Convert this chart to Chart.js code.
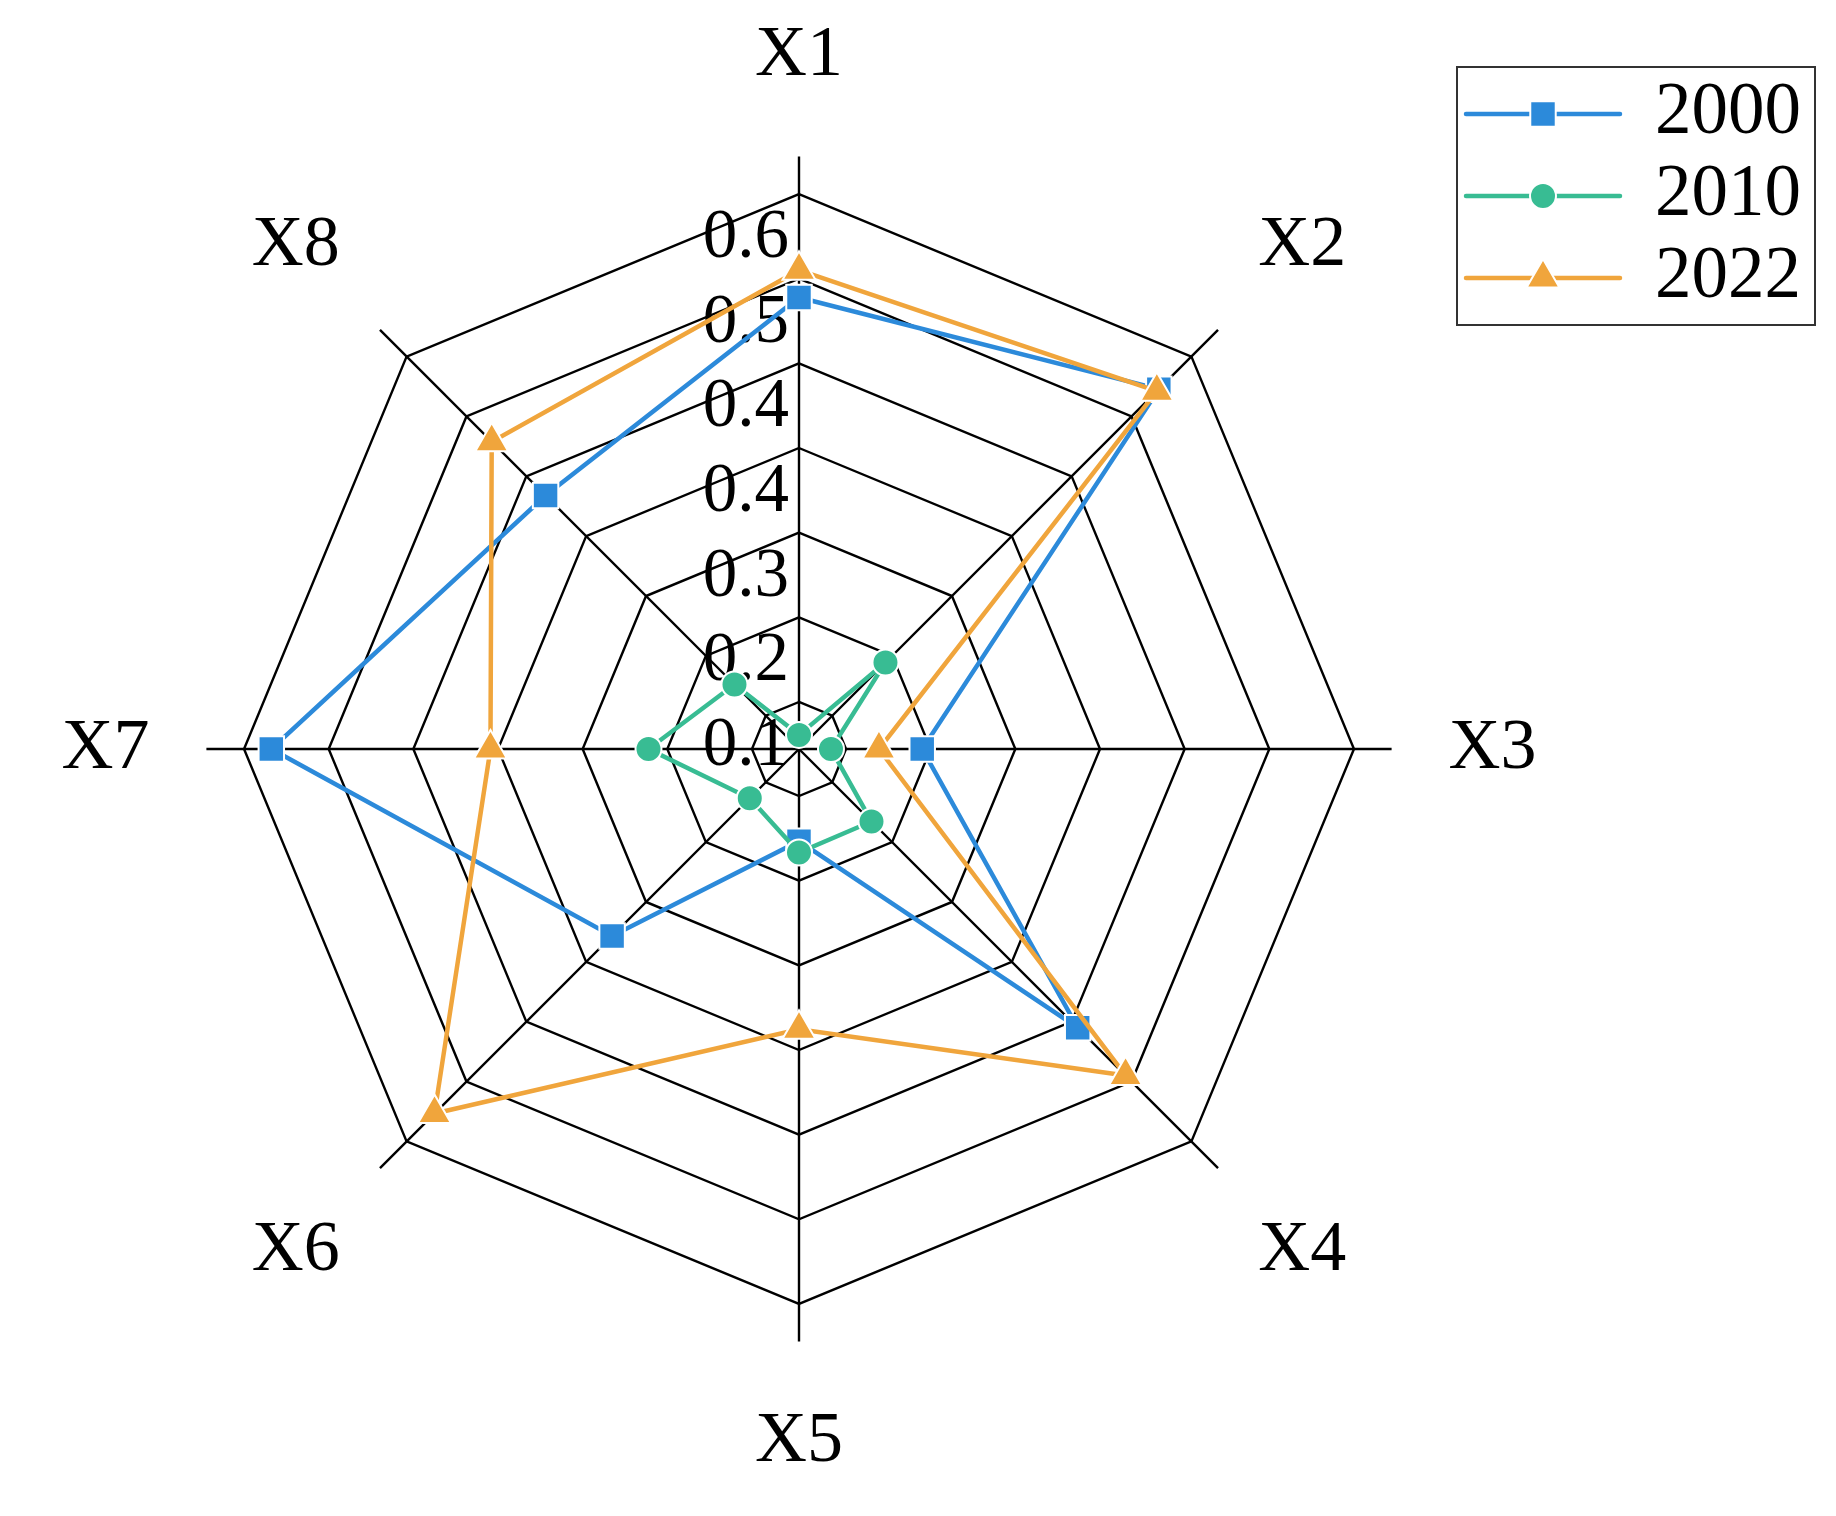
<!DOCTYPE html>
<html>
<head>
<meta charset="utf-8">
<script src="https://cdn.jsdelivr.net/npm/chart.js@4"></script>
<style>
  html, body { margin: 0; padding: 0; background: #fff; }
  #wrap { width: 1836px; height: 1516px; }
</style>
</head>
<body>
<div id="wrap"><canvas id="radarChart" width="1836" height="1516"></canvas></div>
<script>
// Categories (axes)
const categories = ['X1', 'X2', 'X3', 'X4', 'X5', 'X6', 'X7', 'X8'];

// Series values
const years = ['2000', '2010', '2022'];
const values2000 = [0.51, 0.571, 0.161, 0.449, 0.128, 0.311, 0.591, 0.411];
const values2010 = [0.045, 0.16, 0.064, 0.139, 0.14, 0.104, 0.19, 0.127];
const values2022 = [0.539, 0.568, 0.115, 0.521, 0.328, 0.578, 0.358, 0.492];

// Radial axis: rings and their printed labels
const scaleMin = 0.03;
const scaleMax = 0.66;
const tickValues = [0.08, 0.17, 0.26, 0.35, 0.44, 0.53, 0.62];
const tickLabels = ['0.1', '0.2', '0.3', '0.4', '0.4', '0.5', '0.6'];

const colors = ['#2C8ADA', '#38BC93', '#F0A53C'];
const markers = ['rect', 'circle', 'triangle'];
const markerSizes = [18, 13, 19];

const FONT = "'Liberation Serif', 'Times New Roman', serif";
Chart.defaults.font.family = FONT;
Chart.defaults.color = '#000';

// Draw one marker shape (used by the legend)
function drawMarker(ctx, style, x, y, r, color) {
    ctx.save();
    ctx.fillStyle = color;
    ctx.strokeStyle = '#fff';
    ctx.lineWidth = 2;
    ctx.beginPath();
    if (style === 'rect') {
        const s = r * Math.SQRT1_2;
        ctx.rect(x - s, y - s, 2 * s, 2 * s);
    } else if (style === 'circle') {
        ctx.arc(x, y, r, 0, Math.PI * 2);
    } else {
        let a = 0;
        ctx.moveTo(x + Math.sin(a) * r, y - Math.cos(a) * r);
        a += Math.PI * 2 / 3;
        ctx.lineTo(x + Math.sin(a) * r, y - Math.cos(a) * r);
        a += Math.PI * 2 / 3;
        ctx.lineTo(x + Math.sin(a) * r, y - Math.cos(a) * r);
        ctx.closePath();
    }
    ctx.fill();
    ctx.stroke();
    ctx.restore();
}

// Tick labels sit left of the X1 axis, just below each ring
const tickLabelPlugin = {
    id: 'tickLabelPlugin',
    beforeDatasetsDraw(chart) {
        const r = chart.scales.r;
        const ctx = chart.ctx;
        ctx.save();
        ctx.font = '69px ' + FONT;
        ctx.fillStyle = '#000';
        ctx.textAlign = 'right';
        ctx.textBaseline = 'alphabetic';
        tickValues.forEach((v, i) => {
            const d = r.getDistanceFromCenterForValue(v);
            ctx.fillText(tickLabels[i], r.xCenter - 10, r.yCenter - d + 63);
        });
        ctx.restore();
    }
};

// Boxed legend at the top right with line + marker samples
const boxLegendPlugin = {
    id: 'boxLegendPlugin',
    afterDraw(chart) {
        const ctx = chart.ctx;
        const box = { x: 1457, y: 67, w: 358, h: 258 };
        ctx.save();
        ctx.strokeStyle = '#333';
        ctx.lineWidth = 2;
        ctx.strokeRect(box.x, box.y, box.w, box.h);
        chart.data.datasets.forEach((ds, i) => {
            const y = 114 + i * 82;
            ctx.strokeStyle = ds.borderColor;
            ctx.lineWidth = 4.5;
            ctx.lineCap = 'round';
            ctx.beginPath();
            ctx.moveTo(1466, y);
            ctx.lineTo(1620, y);
            ctx.stroke();
            drawMarker(ctx, ds.pointStyle, 1543, y, ds.pointRadius, ds.backgroundColor);
            ctx.fillStyle = '#000';
            ctx.font = '73px ' + FONT;
            ctx.textAlign = 'left';
            ctx.textBaseline = 'middle';
            ctx.fillText(ds.label, 1655, y);
        });
        ctx.restore();
    }
};

const seriesValues = [values2000, values2010, values2022];

const datasets = years.map((year, i) => ({
    label: year,
    data: seriesValues[i],
    borderColor: colors[i],
    backgroundColor: colors[i],
    borderWidth: 4.5,
    fill: false,
    tension: 0,
    pointStyle: markers[i],
    pointRadius: markerSizes[i],
    pointHoverRadius: markerSizes[i],
    pointBackgroundColor: colors[i],
    pointBorderColor: '#fff',
    pointBorderWidth: 2,
    order: 3 - i
}));

const ctx = document.getElementById('radarChart').getContext('2d');
const chart = new Chart(ctx, {
    type: 'radar',
    data: {
        labels: categories,
        datasets: datasets
    },
    options: {
        responsive: false,
        devicePixelRatio: 1,
        animation: false,
        layout: {
            padding: { left: 50, right: 288, top: 14, bottom: 30 }
        },
        plugins: {
            legend: { display: false },
            tooltip: { enabled: false }
        },
        scales: {
            r: {
                min: scaleMin,
                max: scaleMax,
                afterBuildTicks: (scale) => {
                    scale.ticks = [scaleMin].concat(tickValues).map(v => ({ value: v }));
                },
                ticks: {
                    display: false,
                    callback: (value, index) => index === 0 ? '' : tickLabels[index - 1]
                },
                grid: {
                    color: '#000',
                    lineWidth: 2.4
                },
                angleLines: {
                    color: '#000',
                    lineWidth: 2.4
                },
                pointLabels: {
                    color: '#000',
                    padding: 57,
                    font: { size: 72, family: FONT }
                }
            }
        }
    },
    plugins: [tickLabelPlugin, boxLegendPlugin]
});
</script>
</body>
</html>
